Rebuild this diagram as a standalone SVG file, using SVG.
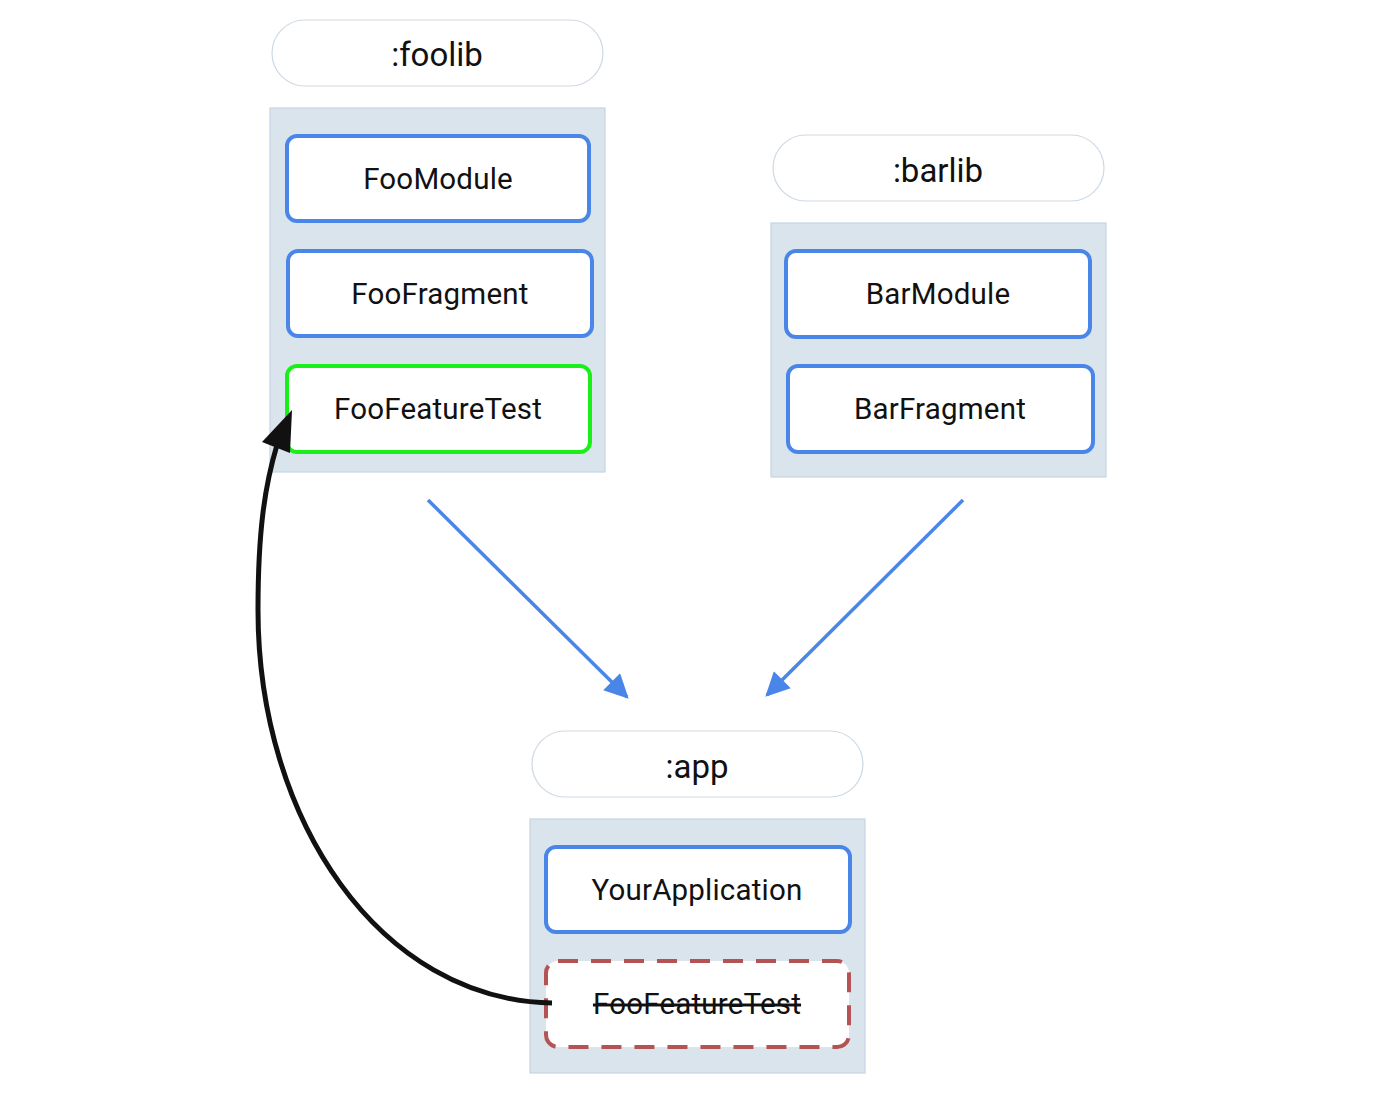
<svg xmlns="http://www.w3.org/2000/svg" width="1400" height="1114" viewBox="0 0 1400 1114">
<style>
.pill{fill:#ffffff;stroke:#cfd9e4;stroke-width:1.2}
.cont{fill:#dae4ed;stroke:#c6d4e1;stroke-width:1.2}
.node{fill:#ffffff;stroke:#4a86e8;stroke-width:4}
.green{fill:#ffffff;stroke:#19f019;stroke-width:4}
.removed{fill:#ffffff;stroke:#b35353;stroke-width:4;stroke-dasharray:20 13}
.plabel{font-family:Roboto,"Liberation Sans",sans-serif;font-size:33px;fill:#111111;text-anchor:middle;dominant-baseline:central}
.nlabel{font-family:Roboto,"Liberation Sans",sans-serif;font-size:29.5px;fill:#111111;text-anchor:middle;dominant-baseline:central;letter-spacing:0.2px}
.dep{fill:none;stroke:#4a86e8;stroke-width:3.5}
.move{fill:none;stroke:#111111;stroke-width:5}
</style>
<defs>
<marker id="blueArrow" viewBox="0 0 10 10" refX="9" refY="5" markerUnits="userSpaceOnUse" markerWidth="30" markerHeight="24" orient="auto">
<path d="M0,0 L10,5 L0,10 Z" fill="#4a86e8"/>
</marker>
</defs>
<rect width="1400" height="1114" fill="#ffffff"/>

<g id="foolib">
<rect class="pill" x="272" y="20" width="331" height="66" rx="33"/>
<text class="plabel" x="437" y="54">:foolib</text>
<rect class="cont" x="270" y="108" width="335" height="364"/>
</g>
<g id="FooModule">
<rect class="node" x="287" y="136" width="302" height="85" rx="10"/>
<text class="nlabel" x="438" y="179">FooModule</text>
</g>
<g id="FooFragment">
<rect class="node" x="288" y="251" width="304" height="85" rx="10"/>
<text class="nlabel" x="440" y="294">FooFragment</text>
</g>
<g id="FooFeatureTest">
<rect class="green" x="287" y="366" width="303" height="86" rx="10"/>
<text class="nlabel" x="438" y="409">FooFeatureTest</text>
</g>

<g id="barlib">
<rect class="pill" x="773" y="135" width="331" height="66" rx="33"/>
<text class="plabel" x="938" y="170">:barlib</text>
<rect class="cont" x="771" y="223" width="335" height="254"/>
</g>
<g id="BarModule">
<rect class="node" x="786" y="251" width="304" height="86" rx="10"/>
<text class="nlabel" x="938" y="294">BarModule</text>
</g>
<g id="BarFragment">
<rect class="node" x="788" y="366" width="305" height="86" rx="10"/>
<text class="nlabel" x="940" y="409">BarFragment</text>
</g>

<g id="app">
<rect class="pill" x="532" y="731" width="331" height="66" rx="33"/>
<text class="plabel" x="697" y="766">:app</text>
<rect class="cont" x="530" y="819" width="335" height="254"/>
</g>
<g id="YourApplication">
<rect class="node" x="546" y="847" width="304" height="85" rx="10"/>
<text class="nlabel" x="697" y="890">YourApplication</text>
</g>
<g id="FooFeatureTestRemoved">
<rect class="removed" x="546" y="961" width="303" height="86" rx="12"/>
<text class="nlabel" x="697" y="1004" text-decoration="line-through">FooFeatureTest</text>
</g>

<g id="connectors">
<line class="dep" x1="428" y1="500" x2="627" y2="697" marker-end="url(#blueArrow)"/>
<line class="dep" x1="963" y1="500" x2="767" y2="695" marker-end="url(#blueArrow)"/>
<path class="move" d="M552,1003 C380,1000 258,820 258,610 C258,530 265,485 277,445"/>
<path d="M292,410 L262,442 L290,453 Z" fill="#111111"/>
</g>
</svg>
